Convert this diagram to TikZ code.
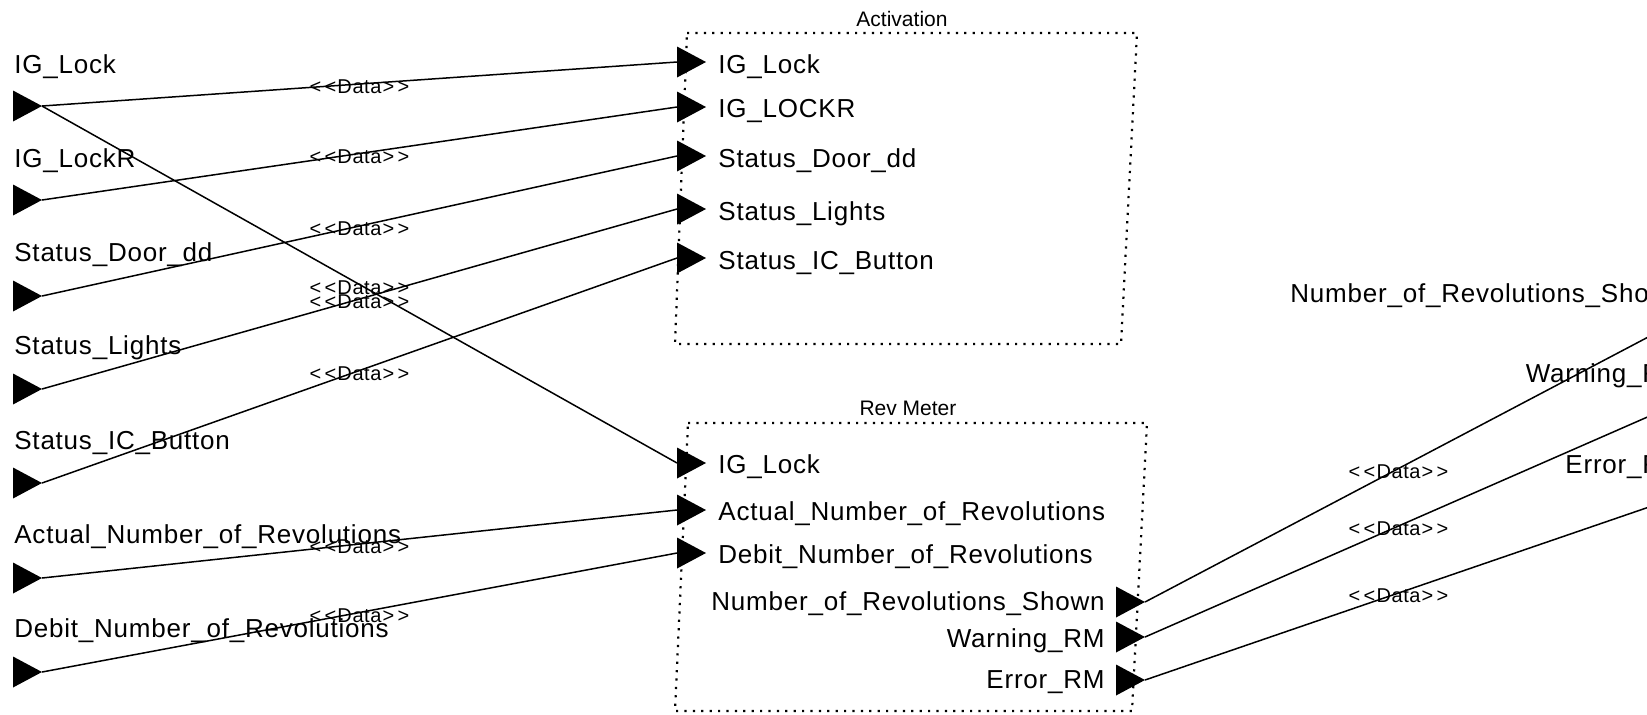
\documentclass[tikz,border=0pt]{standalone}
\usepackage{fontspec}
\setmainfont{Liberation Sans}
\newcommand\myport[3]{%
  \coordinate (#1w) at (#2,#3);
  \coordinate (#1e) at (#2+29,#3);
  \fill ([shift={(0,-15.5)}]#1w) -- (#1e) -- ([shift={(0,15.5)}]#1w) -- cycle;}
\newcommand\dlbl{<\kern1.6pt<\kern0.6pt Data\kern0.6pt>\kern1.6pt>}
\begin{document}
\begin{tikzpicture}[x=0.5pt,y=-0.5pt,
  lbl/.style={inner sep=0pt, font=\fontsize{13pt}{15pt}\selectfont\addfontfeature{LetterSpace=3}},
  ttl/.style={inner sep=0pt, font=\fontsize{10.5pt}{12pt}\selectfont},
  data/.style={inner sep=0pt, font=\fontsize{10pt}{11pt}\selectfont\addfontfeature{LetterSpace=3}, yshift=-1.5pt},
  conn/.style={line width=0.75pt},
  blk/.style={line width=1.1pt, dash pattern=on 1.1pt off 3.1pt}]
\useasboundingbox (0,0) rectangle (1647,714);
\clip (0,0) rectangle (1647,714);

% blocks
\draw[blk] (687,33) -- (1137,33) -- (1121,344) -- (675,344) -- cycle;
\node[ttl, anchor=base] (tact) at (902,26) {Activation};
\draw[blk] (688,423) -- (1147,423) -- (1132,711) -- (675,711) -- cycle;
\node[ttl, anchor=base] (trev) at (908,415) {Rev Meter};

% left external ports
\myport{L1}{13}{106}
\myport{L2}{13}{200}
\myport{L3}{13}{296}
\myport{L4}{13}{389}
\myport{L5}{13}{483}
\myport{L6}{13}{578}
\myport{L7}{13}{672}
\node[lbl, anchor=base west] (tL1) at (14,73)  {IG\_Lock};
\node[lbl, anchor=base west] (tL2) at (14,167) {IG\_LockR};
\node[lbl, anchor=base west] (tL3) at (14,261) {Status\_Door\_dd};
\node[lbl, anchor=base west] (tL4) at (14,354) {Status\_Lights};
\node[lbl, anchor=base west] (tL5) at (14,449) {Status\_IC\_Button};
\node[lbl, anchor=base west] (tL6) at (14,543) {Actual\_Number\_of\_Revolutions};
\node[lbl, anchor=base west] (tL7) at (14,637) {Debit\_Number\_of\_Revolutions};

% Activation ports
\myport{A1}{677}{62}
\myport{A2}{677}{107}
\myport{A3}{677}{156}
\myport{A4}{677}{209}
\myport{A5}{677}{258}
\node[lbl, anchor=base west] (tA1) at (718,73)  {IG\_Lock};
\node[lbl, anchor=base west] (tA2) at (718,117) {IG\_LOCKR};
\node[lbl, anchor=base west] (tA3) at (718,167) {Status\_Door\_dd};
\node[lbl, anchor=base west] (tA4) at (718,220) {Status\_Lights};
\node[lbl, anchor=base west] (tA5) at (718,269) {Status\_IC\_Button};

% Rev Meter ports
\myport{R1}{677}{463}
\myport{R2}{677}{510}
\myport{R3}{677}{553}
\node[lbl, anchor=base west] (tR1) at (718,473) {IG\_Lock};
\node[lbl, anchor=base west] (tR2) at (718,520) {Actual\_Number\_of\_Revolutions};
\node[lbl, anchor=base west] (tR3) at (718,563) {Debit\_Number\_of\_Revolutions};
\myport{O1}{1116}{602}
\myport{O2}{1116}{637}
\myport{O3}{1116}{680}
\node[lbl, anchor=base east] (tO1) at (1105,610) {Number\_of\_Revolutions\_Shown};
\node[lbl, anchor=base east] (tO2) at (1105,647) {Warning\_RM};
\node[lbl, anchor=base east] (tO3) at (1105,688) {Error\_RM};

% right external ports
\myport{E1}{1652}{335}
\myport{E2}{1652}{415}
\myport{E3}{1652}{506}
\node[lbl, anchor=base east] (tE1) at (1684,302) {Number\_of\_Revolutions\_Shown};
\node[lbl, anchor=base east] (tE2) at (1684,382) {Warning\_RM};
\node[lbl, anchor=base east] (tE3) at (1684,473) {Error\_RM};

% connectors
\draw[conn] (L1e) -- node[data] (d1) {\dlbl} (A1w);
\draw[conn] (L2e) -- node[data] (d2) {\dlbl} (A2w);
\draw[conn] (L3e) -- node[data] (d3) {\dlbl} (A3w);
\draw[conn] (L4e) -- node[data] (d4) {\dlbl} (A4w);
\draw[conn] (L5e) -- node[data] (d5) {\dlbl} (A5w);
\draw[conn] (L1e) -- node[data] (d6) {\dlbl} (R1w);
\draw[conn] (L6e) -- node[data] (d7) {\dlbl} (R2w);
\draw[conn] (L7e) -- node[data] (d8) {\dlbl} (R3w);
\draw[conn] (O1e) -- node[data] (d9) {\dlbl} (E1w);
\draw[conn] (O2e) -- node[data] (d10) {\dlbl} (E2w);
\draw[conn] (O3e) -- node[data] (d11) {\dlbl} (E3w);
\end{tikzpicture}
\end{document}
